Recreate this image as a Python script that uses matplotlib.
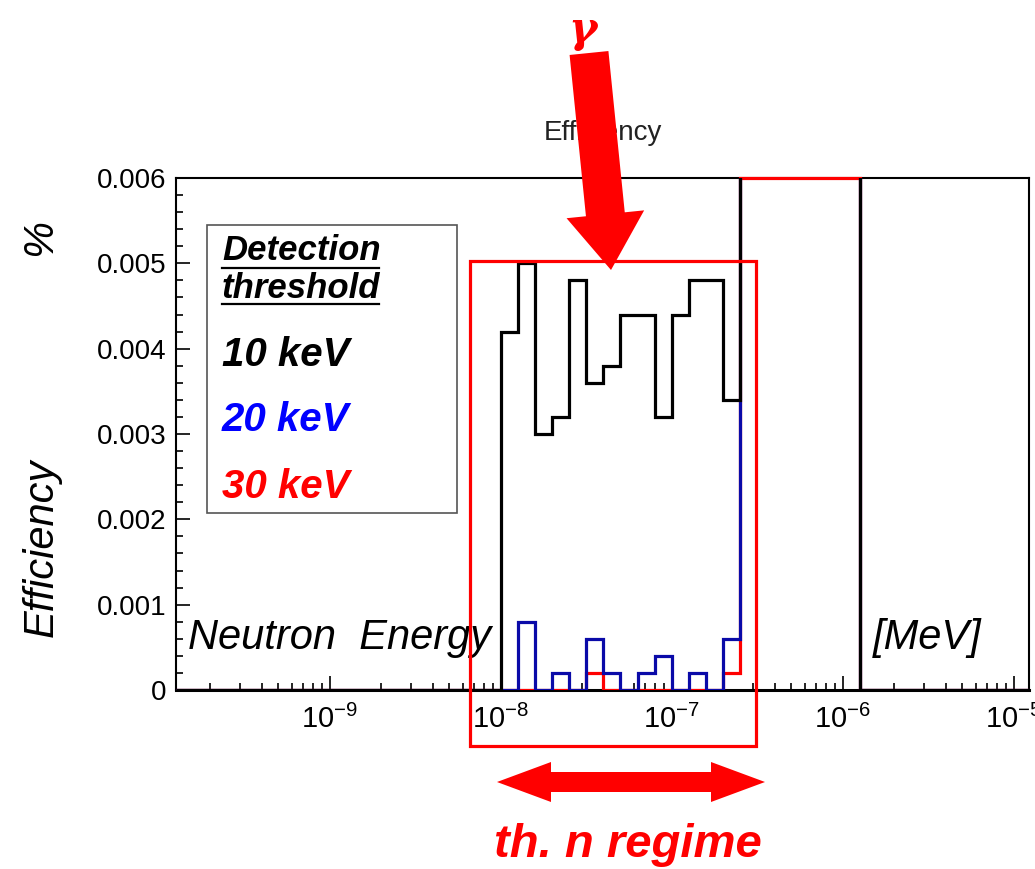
import matplotlib
matplotlib.use('Agg')
import matplotlib.pyplot as plt
import numpy as np
from matplotlib.patches import Rectangle, FancyArrow
from matplotlib.lines import Line2D
from matplotlib.ticker import (FixedLocator, LogLocator, NullFormatter, MultipleLocator,
                               FuncFormatter, LogFormatterSciNotation)

plt.rcParams['font.family'] = ['Liberation Sans', 'DejaVu Sans']
plt.rcParams['mathtext.fontset'] = 'custom'
plt.rcParams['mathtext.rm'] = 'Liberation Sans'
plt.rcParams['mathtext.it'] = 'Liberation Sans:italic'

# bin edges (log10 of neutron energy in MeV)
log_edges = [-9.9, -8.0, -7.9, -7.8, -7.7, -7.6, -7.5, -7.4, -7.3, -7.2,
             -7.1, -7.0, -6.9, -6.8, -6.7, -6.6, -5.9, -4.91]
eff_10keV = [0, 0.0042, 0.0050, 0.0030, 0.0032, 0.0048, 0.0036, 0.0038, 0.0044,
             0.0044, 0.0032, 0.0044, 0.0048, 0.0048, 0.0034, 0.0064, 0]
eff_20keV = [0, 0, 0.0008, 0, 0.0002, 0, 0.0006, 0.0002, 0, 0.0002,
             0.0004, 0, 0.0002, 0, 0.0006, 0.0064, 0]
eff_30keV = [0, 0, 0, 0, 0, 0, 0.0002, 0, 0, 0,
             0, 0, 0, 0, 0.0002, 0.0060, 0]
x_major = [1e-9, 1e-8, 1e-7, 1e-6, 1e-5]
legend_labels = ['10 keV', '20 keV', '30 keV']
legend_colors = ['black', '#0000ff', '#ff0000']

W, H = 1035, 869
def fp(x, y):
    # pixel position -> figure fraction
    return x / W, 1 - y / H
def inch(x, y):
    return x / 100, (H - y) / 100

fig = plt.figure(figsize=(W / 100, H / 100), dpi=100)
ax = fig.add_axes([176 / W, 1 - 690 / H, (1029 - 176) / W, (690 - 178) / H])

edges = 10 ** np.array(log_edges)
red = ax.stairs(eff_30keV, edges, color='#ff0000', lw=2.3, zorder=3)
# let the red top line sit fully on the frame, but keep the bottom clipped like the others
red.set_clip_path(Rectangle((0, 0), 1, 1.02, transform=ax.transAxes))
ax.stairs(eff_20keV, edges, color='#0a0aa8', lw=2.3, zorder=3.1)
ax.stairs(eff_10keV, edges, color='black', lw=2.3, zorder=3.2)

ax.set_xscale('log')
ax.set_xlim(edges[0], edges[-1])
ax.set_ylim(0, 0.006)
ax.xaxis.set_major_locator(FixedLocator(x_major))
ax.xaxis.set_major_formatter(LogFormatterSciNotation())
ax.xaxis.set_minor_locator(LogLocator(base=10, subs=np.arange(2, 10)))
ax.xaxis.set_minor_formatter(NullFormatter())
ax.yaxis.set_major_locator(MultipleLocator(0.001))
ax.yaxis.set_minor_locator(MultipleLocator(0.0002))
ax.yaxis.set_major_formatter(FuncFormatter(lambda v, p: '0' if abs(v) < 1e-9 else f'{v:.3f}'))
ax.tick_params(axis='both', which='both', direction='in', top=False, right=False, colors='black')
ax.tick_params(axis='x', which='major', length=10, width=1.2, labelsize=21, pad=11)
ax.tick_params(axis='x', which='minor', length=5, width=1.2)
ax.tick_params(axis='y', which='major', length=10, width=1.2, labelsize=20, pad=7)
ax.tick_params(axis='y', which='minor', length=5, width=1.2)
for s in ax.spines.values():
    s.set_linewidth(1.5)
ax.spines['bottom'].set_linewidth(2.2)

# titles and axis labels
fig.text(*fp(603, 133), 'Efficiency', fontsize=20, ha='center', va='center', color='#222222')
fig.text(*fp(42, 548), 'Efficiency', fontsize=30, style='italic', rotation=90, ha='center', va='center')
fig.text(*fp(40, 237), '%', fontsize=30, style='italic', rotation=90, ha='center', va='center')
fig.text(*fp(188, 638), 'Neutron  Energy', fontsize=30, style='italic', ha='left', va='center')
fig.text(*fp(873, 638), '[MeV]', fontsize=30, style='italic', ha='left', va='center')

# legend box
fig.add_artist(Rectangle(fp(207, 513), 250 / W, 288 / H, transform=fig.transFigure,
                         fill=False, edgecolor='#555555', lw=1.2))
fig.text(*fp(222, 250), 'Detection', fontsize=25, weight='bold', style='italic', ha='left', va='center')
fig.text(*fp(222, 289), 'threshold', fontsize=25, weight='bold', style='italic', ha='left', va='center')
for yy in (268, 304):
    x0, y0 = fp(222, yy)
    x1, _ = fp(379, yy)
    fig.add_artist(Line2D([x0, x1], [y0, y0], transform=fig.transFigure, color='black', lw=1.6))
for lab, col, yy in zip(legend_labels, legend_colors, (355, 420, 487)):
    fig.text(*fp(222, yy), lab, fontsize=29, weight='bold', style='italic', color=col, ha='left', va='center')

# thermal region box
fig.add_artist(Rectangle(fp(470, 746), (756 - 470) / W, (746 - 261) / H, transform=fig.transFigure,
                         fill=False, edgecolor='#ff0000', lw=2.3, zorder=4))

# gamma arrow
tx, ty = inch(589, 53)
hx, hy = inch(611, 270)
fig.add_artist(FancyArrow(tx, ty, hx - tx, hy - ty, width=0.39, head_width=0.78, head_length=0.56,
                          length_includes_head=True, transform=fig.dpi_scale_trans,
                          color='#ff0000', lw=0, zorder=5))
fig.text(*fp(584, 33), r'$\boldsymbol{\gamma}$', fontsize=31, color='#ff0000', ha='center', va='center',
         math_fontfamily='dejavuserif', zorder=6)

# double arrow th. n regime
cx, cy = inch(631, 782)
for end in (497, 765):
    ex, _ = inch(end, 782)
    fig.add_artist(FancyArrow(cx, cy, ex - cx, 0, width=0.20, head_width=0.40, head_length=0.54,
                              length_includes_head=True, transform=fig.dpi_scale_trans,
                              color='#ff0000', lw=0, zorder=5))
fig.text(*fp(628, 845), 'th. n regime', fontsize=34, weight='bold', style='italic', color='#ff0000',
         ha='center', va='center')

fig.savefig('out.png', dpi=100)
